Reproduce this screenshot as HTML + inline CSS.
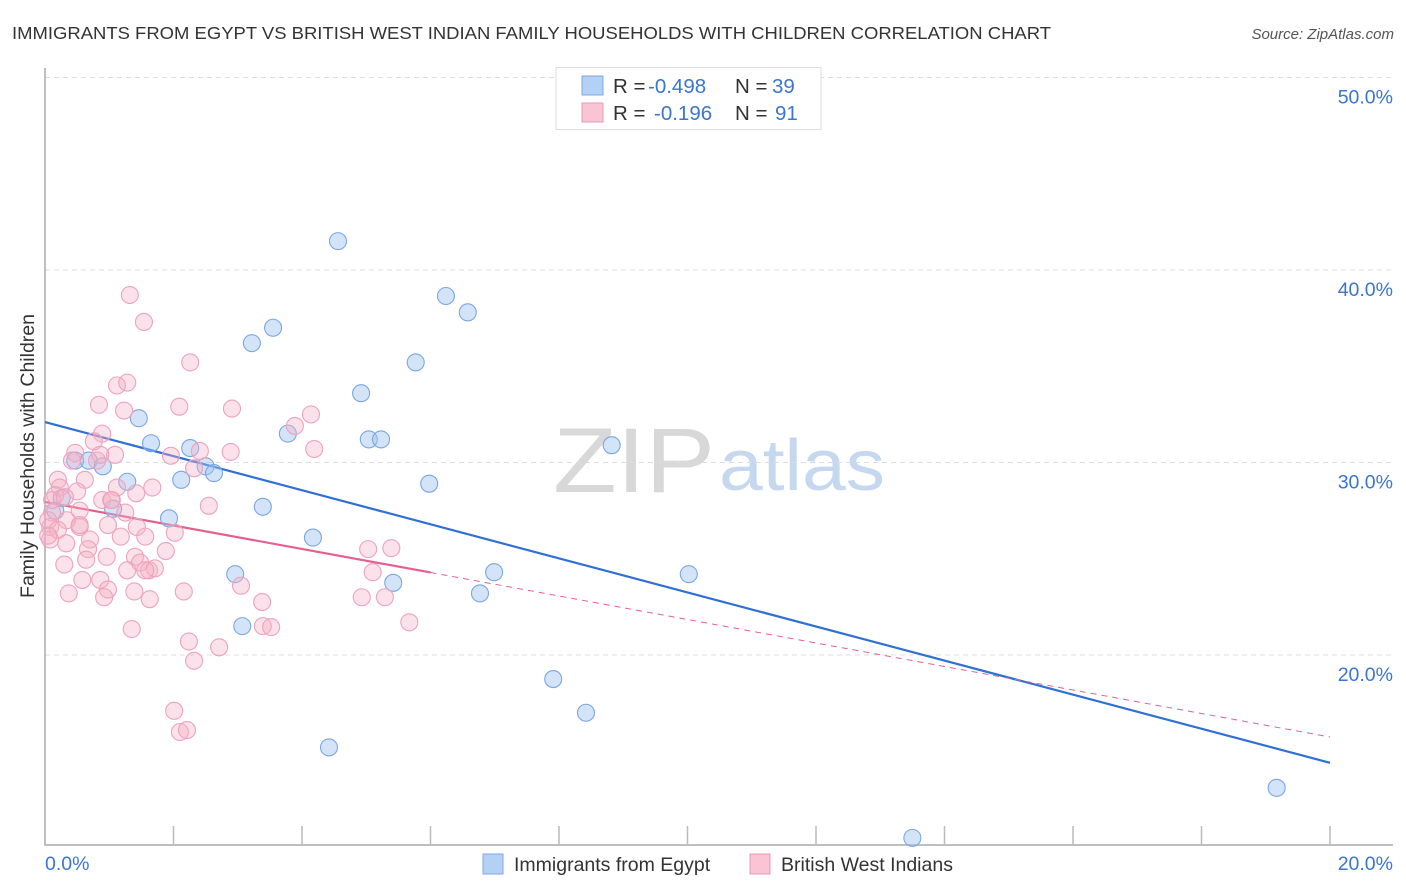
<!DOCTYPE html>
<html><head><meta charset="utf-8">
<style>
body{margin:0;background:#fff;font-family:"Liberation Sans",sans-serif;}
svg{display:block}
text{font-family:"Liberation Sans",sans-serif}
</style></head>
<body>
<svg id="chart" width="1406" height="892" viewBox="0 0 1406 892">
<text x="12" y="39" font-size="17.5" fill="#333" textLength="1039" lengthAdjust="spacingAndGlyphs">IMMIGRANTS FROM EGYPT VS BRITISH WEST INDIAN FAMILY HOUSEHOLDS WITH CHILDREN CORRELATION CHART</text>
<text x="1394" y="39" font-size="15" fill="#555" font-style="italic" text-anchor="end">Source: ZipAtlas.com</text>
<text transform="translate(34,456) rotate(-90)" font-size="19.5" fill="#333" text-anchor="middle">Family Households with Children</text>
<g>
<text x="553" y="492" font-size="92" fill="#d8d8d8" font-family="Liberation Serif,serif" textLength="162" lengthAdjust="spacingAndGlyphs">ZIP</text>
<text x="719" y="490" font-size="72" fill="#c5d8f0" textLength="166" lengthAdjust="spacingAndGlyphs">atlas</text>
</g>
<g id="grid"></g>
<g id="axes"></g>
<g id="lines"></g>
<g id="pts"></g>
<g>
<rect x="556" y="67.5" width="265" height="62" fill="#fff" stroke="#ddd"/>
<rect x="582" y="76" width="21" height="19" fill="#b3d0f5" stroke="#7fa8e0"/>
<rect x="582" y="103" width="21" height="19" fill="#f9c4d3" stroke="#ec9ab4"/>
<text x="613" y="93" font-size="20.5" fill="#333">R = <tspan x="648" fill="#3a75d0">-0.498</tspan><tspan x="735">N = </tspan><tspan x="772" fill="#3a75d0">39</tspan></text>
<text x="613" y="120" font-size="20.5" fill="#333">R = <tspan x="654" fill="#3a75d0">-0.196</tspan><tspan x="735">N = </tspan><tspan x="775" fill="#3a75d0">91</tspan></text>
</g>
<g>
<rect x="483" y="854" width="20" height="20" fill="#b3d0f5" stroke="#7fa8e0"/>
<text x="514" y="871" font-size="19.5" fill="#333">Immigrants from Egypt</text>
<rect x="750" y="854" width="20" height="20" fill="#f9c4d3" stroke="#ec9ab4"/>
<text x="781" y="871" font-size="19.5" fill="#333">British West Indians</text>
</g>
</svg>
<script>
const yTicks=[20,30,40,50];
const yTickLabels=["20.0%","30.0%","40.0%","50.0%"];
const xTickVals=[0,2,4,6,8,10,12,14,16,18,20];
const egyptX=[4.56,6.24,6.58,3.55,3.22,5.77,4.92,1.46,3.78,1.65,5.04,5.23,8.82,2.26,0.47,0.68,0.9,2.5,2.63,2.12,1.28,5.98,0.26,0.16,3.39,1.06,1.93,4.17,2.96,6.99,10.02,5.42,6.77,3.07,7.91,8.42,4.42,19.17,13.5];
const egyptY=[41.5,38.65,37.8,37.0,36.2,35.2,33.6,32.3,31.5,31.0,31.2,31.2,30.9,30.75,30.1,30.1,29.8,29.8,29.45,29.1,29.0,28.9,28.15,27.5,27.7,27.6,27.1,26.1,24.2,24.3,24.2,23.75,23.2,21.5,18.75,17.0,15.2,13.1,10.5];
const bwiX=[1.32,1.54,2.26,1.12,1.28,0.84,1.23,2.09,2.91,3.89,0.89,0.76,0.47,1.09,0.81,1.96,2.41,2.89,2.32,0.2,0.62,0.5,1.12,0.23,1.67,1.42,0.89,1.03,1.25,0.54,0.11,0.08,0.54,0.34,1.43,2.55,2.02,0.7,1.18,1.56,0.33,0.08,0.67,1.88,0.64,0.96,0.3,1.4,1.28,1.48,1.62,1.71,0.58,0.86,0.37,0.98,0.92,1.39,1.63,2.16,3.05,3.38,3.39,3.52,1.35,2.24,2.71,2.32,2.01,2.1,2.21,4.14,4.19,5.03,5.39,5.1,4.93,5.29,5.67,0.05,0.11,0.2,0.42,0.86,1.04,0.16,0.31,0.05,0.98,0.54,1.56];
const bwiY=[38.7,37.3,35.2,34.0,34.15,33.0,32.7,32.9,32.8,31.9,31.5,31.1,30.5,30.4,30.1,30.35,30.6,30.55,29.7,29.1,29.1,28.5,28.7,28.7,28.7,28.4,28.05,28.05,27.4,27.5,27.4,26.65,26.65,27.0,26.65,27.75,26.35,26.0,26.15,26.15,25.8,26.0,25.5,25.4,24.95,25.1,24.7,25.1,24.4,24.8,24.4,24.5,23.9,23.9,23.2,23.4,23.0,23.3,22.9,23.3,23.6,22.75,21.5,21.45,21.35,20.7,20.4,19.7,17.1,16.0,16.1,32.5,30.7,25.5,25.55,24.3,23.0,23.0,21.7,27.0,28.05,26.5,30.1,30.4,28.05,28.3,28.2,26.2,26.75,26.75,24.4];
const egyptTrend=[32.1,14.4];
const bwiTrend=[27.95,15.74];
const bwiSolidEnd=6.0;

const NS="http://www.w3.org/2000/svg";
const X0=45,X1=1330,YB=845;
const sx=v=>X0+(v-0)/20*(X1-X0);
const sy=v=>77.5+(50-v)*19.25;
function mk(tag,attrs,parent){const e=document.createElementNS(NS,tag);for(const k in attrs)e.setAttribute(k,attrs[k]);parent.appendChild(e);return e;}
const grid=document.getElementById('grid'),axes=document.getElementById('axes'),lines=document.getElementById('lines'),pts=document.getElementById('pts');
yTicks.forEach((t,i)=>{
  const l=mk('line',{x1:X0,x2:1393,y1:sy(t),y2:sy(t),stroke:'#ddd','stroke-dasharray':'5,4'},grid);
  
  
  const tx=mk('text',{x:1393,y:sy(t)+26,'font-size':19.5,fill:'#3a75d0','text-anchor':'end'},grid);
  tx.textContent=yTickLabels[i];
  
  
});
const ax=mk('path',{d:`M${X0} 68V${YB}H1393`,stroke:'#aaa','stroke-width':1.5,fill:'none'},axes);


xTickVals.forEach(v=>{if(v===0)return;
  const t=mk('line',{x1:sx(v),x2:sx(v),y1:826,y2:YB,stroke:'#bbb','stroke-width':1.5},axes);
  
  
});
const xl0=mk('text',{x:45,y:870,'font-size':19.5,fill:'#3a75d0'},axes);xl0.textContent='0.0%';


const xl1=mk('text',{x:1393,y:870,'font-size':19.5,fill:'#3a75d0','text-anchor':'end'},axes);xl1.textContent='20.0%';



egyptX.forEach((x,i)=>{
  const c=mk('circle',{cx:sx(x),cy:sy(egyptY[i]),r:8.5,fill:'rgba(160,196,240,0.45)',stroke:'#7aa6e2','stroke-width':1.1},pts);
  
  
});
bwiX.forEach((x,i)=>{
  const c=mk('circle',{cx:sx(x),cy:sy(bwiY[i]),r:8.5,fill:'rgba(245,175,198,0.38)',stroke:'#eda3bb','stroke-width':1.1},pts);
  
  
});
const bAt=v=>bwiTrend[0]+(bwiTrend[1]-bwiTrend[0])*v/20;
const l1=mk('line',{x1:sx(0),y1:sy(egyptTrend[0]),x2:sx(20),y2:sy(egyptTrend[1]),stroke:'#2f6fd6','stroke-width':2.2},lines);


const l2=mk('line',{x1:sx(0),y1:sy(bAt(0)),x2:sx(bwiSolidEnd),y2:sy(bAt(bwiSolidEnd)),stroke:'#e5608c','stroke-width':2.2},lines);


const l3=mk('line',{x1:sx(bwiSolidEnd),y1:sy(bAt(bwiSolidEnd)),x2:sx(20),y2:sy(bAt(20)),stroke:'#e5608c','stroke-width':1,'stroke-dasharray':'6,5'},lines);


</script>
</body></html>
